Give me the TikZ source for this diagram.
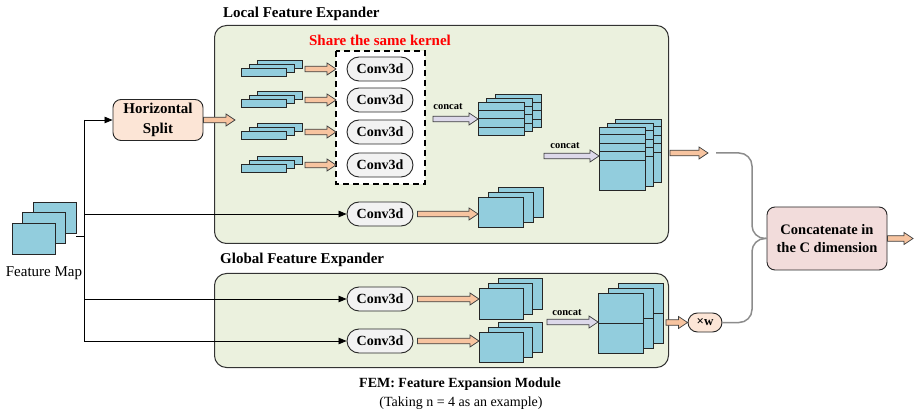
\documentclass[tikz,border=0pt]{standalone}
\usepackage{fontspec}
\setmainfont{Liberation Serif}
\usetikzlibrary{arrows.meta,shapes.misc,calc}

\definecolor{cube}{RGB}{146,205,221}
\definecolor{panelgreen}{RGB}{235,241,222}
\definecolor{peach}{RGB}{252,229,214}
\definecolor{rosebox}{RGB}{242,220,219}
\definecolor{orangearr}{RGB}{247,196,160}
\definecolor{lavender}{RGB}{221,217,234}
\definecolor{convfill}{RGB}{242,242,242}
\definecolor{linkgray}{RGB}{140,140,140}

% stack of three feature slices: name, x, y (front top-left), w, h, dx, dy, band offsets
\newcommand\fmstack[8]{%
  \def\bandlist{#8}%
  \foreach \k/\nm in {2/#1c,1/#1b,0/#1}{%
    \node[blk, minimum width=#4pt, minimum height=#5pt] (\nm) at ({#2+\k*#6},{#3-\k*#7}) {};
    \ifx\bandlist\empty\else
      \foreach \o in {#8}
        \draw[bandline] ($(\nm.north west)+(0,\o)$) -- ($(\nm.north east)+(0,\o)$);
    \fi
  }%
}

% block arrow from one point to another, kept horizontal at the start height
\newcommand\fatarr[3]{%
  \path[draw=black!75, line width=0.7pt, fill=#3, line join=miter]
    let \p1=(#1), \p2=(#2) in
    (\x1,\y1+2.8pt) -- (\x2-9pt,\y1+2.8pt) -- (\x2-9pt,\y1+6pt) -- (\x2,\y1)
    -- (\x2-9pt,\y1-6pt) -- (\x2-9pt,\y1-2.8pt) -- (\x1,\y1-2.8pt) -- cycle;}

\begin{document}
\begin{tikzpicture}[x=1pt,y=-1pt,
  blk/.style={draw=black!85, fill=cube, line width=0.9pt, anchor=north west,
    inner sep=0pt, outer sep=0pt},
  bandline/.style={draw=black!85, line width=0.9pt},
  conv/.style={rounded rectangle, draw=black!85, fill=convfill, line width=0.9pt,
    minimum width=66pt, minimum height=24pt, inner sep=0pt,
    font=\fontsize{14}{16}\selectfont\bfseries},
  panel/.style={draw=black!80, fill=panelgreen, rounded corners=12pt, line width=1pt},
  feed/.style={-{Triangle[length=8pt,width=6.5pt]}, line width=0.8pt},
  merge/.style={draw=linkgray, line width=1.5pt, rounded corners=13pt},
  heading/.style={font=\fontsize{15}{18}\selectfont\bfseries, anchor=west, inner sep=0pt},
  cattext/.style={font=\fontsize{10.5}{12}\selectfont\bfseries, inner sep=0pt}]

\useasboundingbox (0,0) rectangle (916,414);

% panels
\node[panel, minimum width=454pt, minimum height=218pt, anchor=north west, inner sep=0pt] (lfe) at (214,25) {};
\node[panel, minimum width=454pt, minimum height=94pt, anchor=north west, inner sep=0pt] (gfe) at (214,273) {};
\node[heading] at (223,14) {Local Feature Expander};
\node[heading] at (220,260) {Global Feature Expander};

% input feature map
\fmstack{fm}{12}{223}{43}{31}{10.5}{10.5}{}
\node[font=\fontsize{15}{18}\selectfont, inner sep=0pt] at (44,273) {Feature Map};
\coordinate (fmout) at (76,236);
\coordinate (jn) at (84,236);
\coordinate (jtop) at (84,120);
\coordinate (jbot) at (84,341);
\draw[line width=0.8pt] (fmout) -- (jn);
\draw[line width=0.8pt] (jtop) -- (jbot);

% horizontal split
\node[draw=black!85, fill=peach, rounded corners=8pt, line width=0.9pt,
  minimum width=90pt, minimum height=41pt, align=center, inner sep=0pt,
  font=\fontsize{15}{20}\selectfont\bfseries] (hs) at (158,120) {Horizontal\\Split};
\draw[feed] (jtop) -- (hs.west);
\coordinate (hsout) at (235,120);
\fatarr{hs.east}{hsout}{orangearr}

% shared-kernel group
\node[font=\fontsize{15}{18}\selectfont\bfseries, text=red, inner sep=0pt] at (380,40) {Share the same kernel};
\draw[dashed, dash pattern=on 6pt off 4pt, line width=1.1pt, fill=white] (336,51) rectangle (425,184);
\foreach \i/\c in {1/69,2/100,3/132,4/165}{
  \fmstack{sl\i}{241}{\c-1}{45}{8}{8}{4}{}
  \node[conv] (cv\i) at (380,\c) {Conv3d};
  \coordinate (slin\i) at (336,\c);
  \coordinate (slout\i) at (305,\c);
  \fatarr{slout\i}{slin\i}{orangearr}
}

% first concatenation
\fmstack{st1}{478}{102}{46}{33}{8.5}{4}{8,16,25}
\node[cattext] at (448,107) {concat};
\coordinate (cat1s) at (433,119);
\fatarr{cat1s}{st1.west}{lavender}

% second concatenation
\fmstack{st2}{599}{127}{46}{63}{8}{4}{7,16,24,33}
\node[cattext] at (565,146) {concat};
\coordinate (cat2s) at (544,156);
\fatarr{cat2s}{st2.west}{lavender}
\coordinate (lout) at (708,153);
\fatarr{$(st2.east)+(25,-5.5)$}{lout}{orangearr}

% local full-map branch
\node[conv] (lc) at (380,214) {Conv3d};
\draw[feed] (84,214) -- (lc.west);
\fmstack{lst}{478}{197}{45}{30}{10}{5}{}
\fatarr{$(lc.east)+(4,0)$}{lst.west}{orangearr}

% global branches
\node[conv] (gc1) at (380,299) {Conv3d};
\node[conv] (gc2) at (380,341) {Conv3d};
\draw[feed] (84,299) -- (gc1.west);
\draw[feed] (jbot) -- (gc2.west);
\fmstack{gs1}{479}{288}{44}{31}{9.5}{5}{}
\fmstack{gs2}{479}{332}{44}{30}{9.5}{5}{}
\fatarr{$(gc1.east)+(4,0)$}{gs1.west}{orangearr}
\fatarr{$(gc2.east)+(4,0)$}{gs2.west}{orangearr}
\fmstack{gst}{598}{293}{45}{60}{10}{5}{30}
\node[cattext] at (567,313) {concat};
\coordinate (cat3s) at (547,322);
\fatarr{cat3s}{gst.west}{lavender}

% weighting and merge
\node[rounded rectangle, draw=black!85, fill=peach, line width=0.9pt,
  minimum width=34pt, minimum height=19pt, inner sep=0pt,
  font=\fontsize{13}{14}\selectfont\bfseries] (wt) at (705,322.5) {×w};
\fatarr{$(gst.east)+(23,-0.5)$}{wt.west}{orangearr}

\node[draw=black!85, fill=rosebox, rounded corners=8pt, line width=0.9pt,
  minimum width=120pt, minimum height=63pt, align=center, inner sep=0pt,
  font=\fontsize{14.5}{18}\selectfont\bfseries] (cc) at (827,238.5) {Concatenate in\\the C dimension};
\coordinate (lin) at (716,153);
\coordinate (mj) at (752,238.5);
\draw[merge] (lin) -| (mj) -- (cc.west);
\draw[merge] (wt.east) -| (mj) -- (cc.west);
\coordinate (ccout) at (913,238.5);
\fatarr{cc.east}{ccout}{orangearr}

% caption
\node[font=\fontsize{14}{16}\selectfont\bfseries, inner sep=0pt] at (460,384) {FEM: Feature Expansion Module};
\node[font=\fontsize{14}{16}\selectfont, inner sep=0pt] at (461,403) {(Taking n = 4 as an example)};
\end{tikzpicture}
\end{document}
